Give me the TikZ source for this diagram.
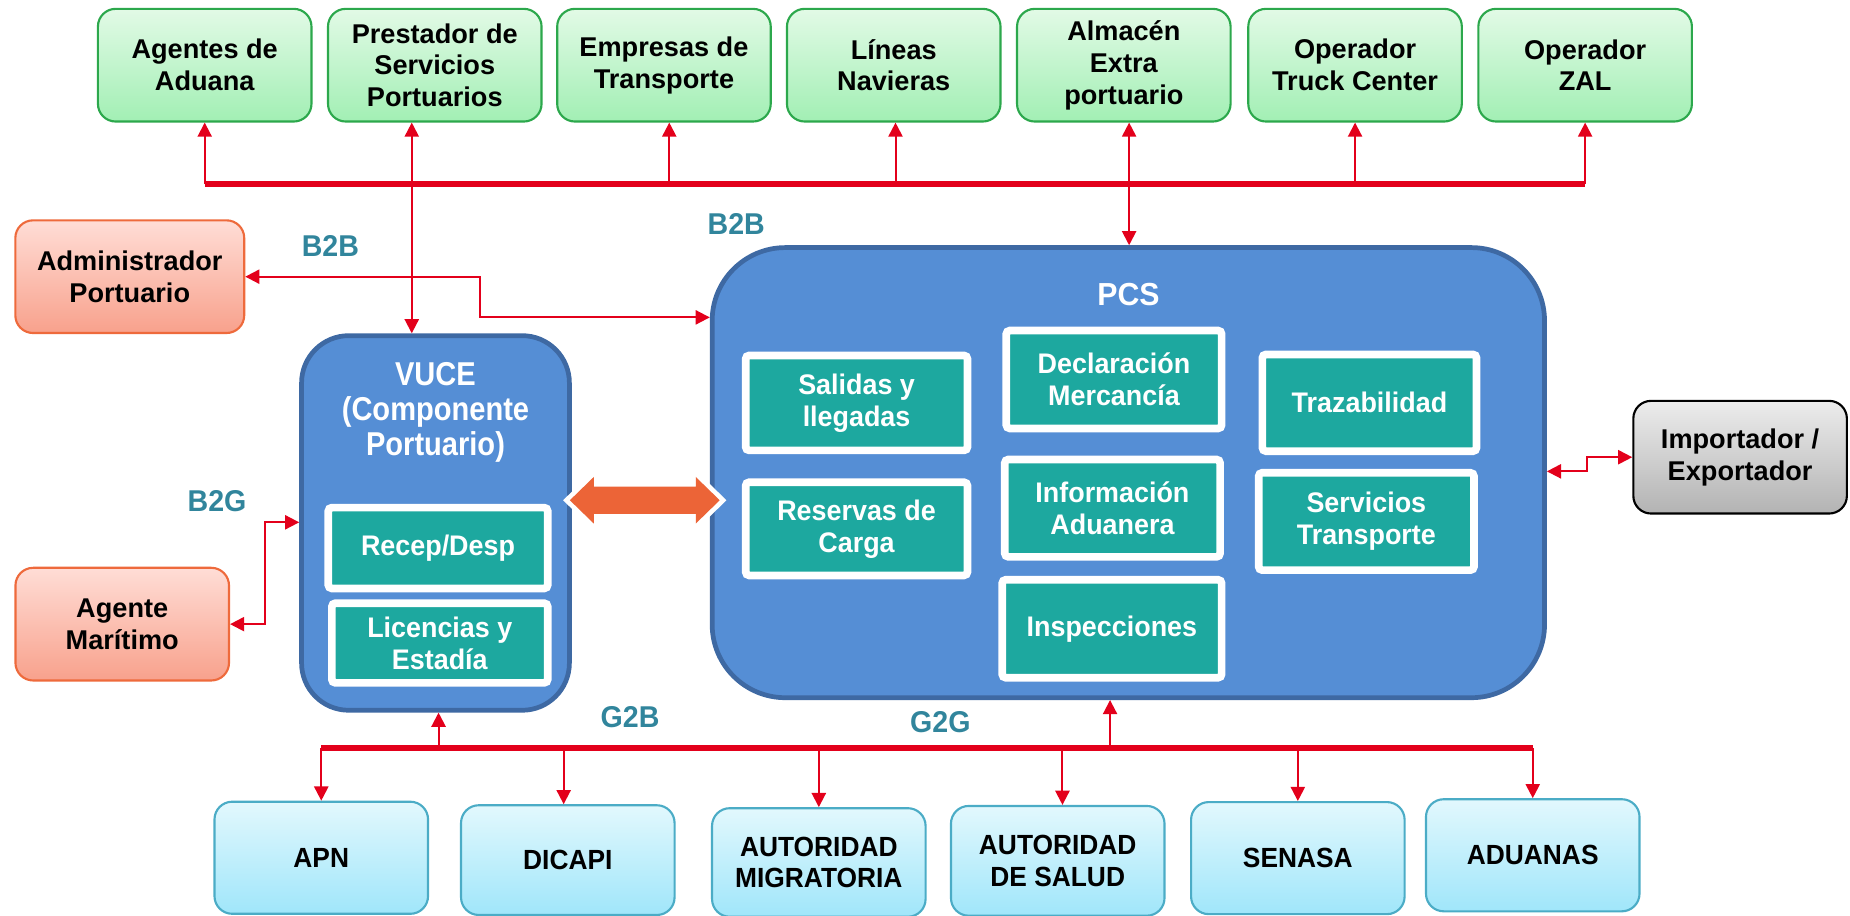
\documentclass[tikz,border=0pt]{standalone}
\usepackage{fontspec}
\setmainfont{Liberation Sans}
\newfontfamily\fA{Liberation Sans}[FakeStretch=0.95]
\newfontfamily\fB{Liberation Sans}[FakeStretch=0.88]
\usetikzlibrary{arrows.meta,calc}
\definecolor{gtop}{HTML}{E2FAE6}
\definecolor{gbot}{HTML}{A2EFB4}
\definecolor{gbrd}{HTML}{2CA84C}
\definecolor{otop}{HTML}{FFDDD6}
\definecolor{obot}{HTML}{F8A18C}
\definecolor{obrd}{HTML}{EE6A3C}
\definecolor{ktop}{HTML}{ECECEC}
\definecolor{kbot}{HTML}{B3B3B3}
\definecolor{btop}{HTML}{E2F8FD}
\definecolor{bbot}{HTML}{A0E6FA}
\definecolor{bbrd}{HTML}{4BACC6}
\definecolor{pblue}{HTML}{558ED5}
\definecolor{pbrd}{HTML}{3E69A3}
\definecolor{tealbox}{HTML}{1DA89F}
\definecolor{cred}{HTML}{E3001B}
\definecolor{corange}{HTML}{EC6437}
\definecolor{clabel}{HTML}{31859C}
\begin{document}
\begin{tikzpicture}[x=1pt,y=-1pt,
  basebox/.style={rounded corners=15pt, line width=1.8pt, inner sep=0pt, align=center,
    minimum width=181pt, minimum height=95.5pt},
  topbox/.style={basebox, draw=gbrd, top color=gtop, bottom color=gbot,
    font={\bfseries\fontsize{23}{27}\selectfont}},
  orbox/.style={basebox, draw=obrd, top color=otop, bottom color=obot,
    font={\bfseries\fontsize{23}{27}\selectfont}},
  grbox/.style={basebox, draw=black, top color=ktop, bottom color=kbot,
    font={\bfseries\fontsize{23}{27}\selectfont}},
  botbox/.style={basebox, draw=bbrd, top color=btop, bottom color=bbot,
    font={\fA\bfseries\fontsize{23.5}{27}\selectfont}},
  bigbox/.style={draw=pbrd, fill=pblue, line width=4pt, inner sep=0pt},
  inbox/.style={draw=white, fill=tealbox, line width=6.5pt, rounded corners=3pt,
    inner sep=0pt, align=center, text=white,
    font={\fA\bfseries\fontsize{24}{27}\selectfont}},
  ttl/.style={text=white, align=center, inner sep=0pt},
  lbl/.style={text=clabel, inner sep=0pt, font={\fA\bfseries\fontsize{25.5}{28}\selectfont}},
  arr/.style={draw=cred, line width=1.7pt, -{Triangle[length=12pt,width=12pt]}},
  dbl/.style={draw=cred, line width=1.7pt, {Triangle[length=12pt,width=12pt]}-{Triangle[length=12pt,width=12pt]}},
  bus/.style={draw=cred, line width=5.6pt}
]
\useasboundingbox (0,0) rectangle (1568,776);

% top boxes
\node[topbox] (agentes) at (173.5,55.25) {Agentes de\\Aduana};
\node[topbox] (prest) at (368.5,55.25) {Prestador de\\Servicios\\Portuarios};
\node[topbox] (emp) at (562.75,55.25) {Empresas de\\Transporte};
\node[topbox] (lineas) at (757.5,55.25) {Líneas\\Navieras};
\node[topbox] (alm) at (952.5,55.25) {Almacén\\Extra\\portuario};
\node[topbox] (truck) at (1148.5,55.25) {Operador\\Truck Center};
\node[topbox] (zal) at (1343.5,55.25) {Operador\\ZAL};

% side boxes
\node[orbox, minimum width=194pt] (admin) at (110,234.5) {Administrador\\Portuario};
\node[orbox] (marit) at (103.6,529) {Agente\\Marítimo};
\node[grbox] (imp) at (1474.85,387.5) {Importador /\\Exportador};

% big boxes
\node[bigbox, rounded corners=40pt, minimum width=227pt, minimum height=317.5pt] (vuce) at (369.1,443.25) {};
\node[ttl, font={\fB\bfseries\fontsize{28}{30}\selectfont}] (vucet) at (369.1,349.5) {VUCE\\(Componente\\Portuario)};
\node[bigbox, rounded corners=62pt, minimum width=705.5pt, minimum height=381.5pt] (pcs) at (956.35,400.6) {};
\node[ttl, font={\fA\bfseries\fontsize{27}{30}\selectfont}] (pcst) at (956.5,249.5) {PCS};

% inner boxes
\node[inbox, minimum width=186pt, minimum height=68.5pt] (recep) at (371.25,464.5) {Recep/Desp};
\node[inbox, minimum width=183pt, minimum height=67.5pt] (lic) at (372.75,545) {Licencias y\\Estadía};
\node[inbox, minimum width=188pt, minimum height=80.5pt] (sal) at (726,341.5) {Salidas y\\llegadas};
\node[inbox, minimum width=188pt, minimum height=79pt] (res) at (726,448.2) {Reservas de\\Carga};
\node[inbox, minimum width=182.5pt, minimum height=83pt] (dec) at (944.15,321.65) {Declaración\\Mercancía};
\node[inbox, minimum width=182.5pt, minimum height=82.5pt] (inf) at (942.85,430.7) {Información\\Aduanera};
\node[inbox, minimum width=186pt, minimum height=83pt] (insp) at (942.4,532.9) {Inspecciones};
\node[inbox, minimum width=181.5pt, minimum height=82pt] (traz) at (1160.7,341.4) {Trazabilidad};
\node[inbox, minimum width=182.5pt, minimum height=82.5pt] (serv) at (1158.05,441.95) {Servicios\\Transporte};

% bottom boxes
\node[botbox, minimum height=95pt] (apn) at (272.3,727) {APN};
\node[botbox, minimum height=93pt] (dic) at (481.25,729) {DICAPI};
\node[botbox, minimum height=92pt] (mig) at (694,731) {AUTORIDAD\\MIGRATORIA};
\node[botbox, minimum height=93pt] (salud) at (896.5,729.6) {AUTORIDAD\\DE SALUD};
\node[botbox, minimum height=95pt] (sen) at (1100,727.3) {SENASA};
\node[botbox, minimum height=95pt] (adu) at (1299.1,724.9) {ADUANAS};

% labels
\node[lbl] (b2ba) at (280,208.5) {B2B};
\node[lbl] (b2bb) at (624,189.5) {B2B};
\node[lbl] (b2g) at (184,425) {B2G};
\node[lbl] (g2b) at (534,607.5) {G2B};
\node[lbl] (g2g) at (797,612) {G2G};

% top bus
\coordinate (tbus) at (0,156);
\draw[bus] (agentes.south |- tbus) -- (zal.south |- tbus);
\draw[arr] (agentes.south |- tbus) -- (agentes.south);
\coordinate (empx) at ($(emp.south)+(4.5,0)$);
\draw[arr] (empx |- tbus) -- (empx);
\coordinate (linx) at ($(lineas.south)+(1.5,0)$);
\draw[arr] (linx |- tbus) -- (linx);
\draw[arr] (truck.south |- tbus) -- (truck.south);
\draw[arr] (zal.south |- tbus) -- (zal.south);
\coordinate (prestx) at ($(prest.south)+(-19.5,0)$);
\draw[dbl] (prestx) -- (prestx |- vuce.north);
\coordinate (almx) at ($(alm.south)+(4.5,0)$);
\draw[dbl] (almx) -- (almx |- pcs.north);

% side connectors
\coordinate (admbend) at (407,269);
\draw[dbl] (admin.east) -| (admbend) -- (admbend -| pcs.west);
\coordinate (marbend) at (225,442.7);
\draw[dbl] (marit.east) -| (marbend) -- (marbend -| vuce.west);
\coordinate (impbend) at (1345,399.5);
\draw[dbl] (imp.west) -| (impbend) -- (impbend -| pcs.east);

% bottom bus
\coordinate (bbus) at (0,634);
\draw[bus] (apn.north |- bbus) -- (adu.north |- bbus);
\draw[arr] (apn.north |- bbus) -- (apn.north);
\coordinate (dicx) at ($(dic.north)+(-3.5,0)$);
\draw[arr] (dicx |- bbus) -- (dicx);
\draw[arr] (mig.north |- bbus) -- (mig.north);
\coordinate (salx) at ($(salud.north)+(4,0)$);
\draw[arr] (salx |- bbus) -- (salx);
\draw[arr] (sen.north |- bbus) -- (sen.north);
\draw[arr] (adu.north |- bbus) -- (adu.north);
\coordinate (vucex) at ($(vuce.south)+(2.6,0)$);
\draw[arr] (vucex |- bbus) -- (vucex);
\coordinate (pcsx) at ($(pcs.south)+(-15.5,0)$);
\draw[arr] (pcsx |- bbus) -- (pcsx);

% double arrow VUCE <-> PCS
\coordinate (dl) at (483,424);
\coordinate (dr) at (610,424);
\foreach \layer in {0,1}{
  \ifnum\layer=0 \tikzset{dastyle/.style={draw=white, line width=8pt, line join=miter}}
  \else \tikzset{dastyle/.style={fill=corange}}\fi
  \path[dastyle]
    (dl) -- ++(20.3,-19.75) -- ++(0,8.15) -- ($(dr)+(-20.3,-11.6)$) -- ++(0,-8.15) -- (dr)
    -- ++(-20.3,19.75) -- ++(0,-8.15) -- ($(dl)+(20.3,11.6)$) -- ++(0,8.15) -- cycle;
}
\end{tikzpicture}
\end{document}
